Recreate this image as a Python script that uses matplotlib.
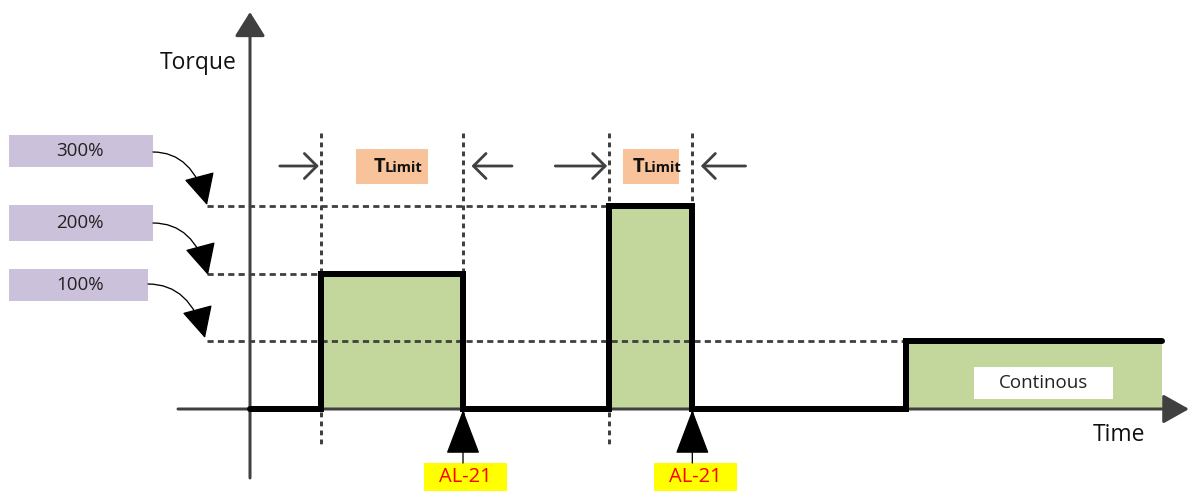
import matplotlib
matplotlib.use("Agg")
import matplotlib.pyplot as plt

# ---------------- data ----------------
t_edges = [0.0, 1.0, 3.0, 5.06, 6.23, 9.24, 12.85]    # time of each step edge
torque_levels = [0, 200, 0, 300, 0, 100]            # torque (%) on each segment
ref_levels = [300, 200, 100]                        # reference lines (%)
ref_labels = ["300%", "200%", "100%"]
ref_end_edge = [4, 2, 5]                            # index in t_edges where each dashed line stops
limit_windows = [(1, 2), (3, 4)]                    # T-limit windows (edge indices)
alarm_edges = [2, 4]                                # AL-21 alarm at these edges
alarm_label = "AL-21"
cont_label = "Continous"

plt.rcParams['font.family'] = ['Open Sans', 'DejaVu Sans']

W, H = 1189, 492
fig = plt.figure(figsize=(W / 100, H / 100), dpi=100)
ax = fig.add_axes([0, 0, 1, 1])
ax.axis('off')

# mapping: time 0 at pixel x=250, torque 0 at pixel y=409
X0, XS = 250.0, 71.0
Y0, YS = 409.0, 0.677
ax.set_xlim((0 - X0) / XS, (W - X0) / XS)
ax.set_ylim((Y0 - H) / YS, Y0 / YS)


def P(xp, yp):
    """pixel -> data coords (for decorations only)"""
    return ((xp - X0) / XS, (Y0 - yp) / YS)


def px_x(xp):
    return (xp - X0) / XS


def px_y(yp):
    return (Y0 - yp) / YS


GREY = '#404040'
PT = 0.72  # points per pixel

# green fill
ax.stairs(torque_levels, t_edges, fill=True, baseline=0, color='#c3d69b',
          linewidth=0, zorder=1)

# axes with arrows
ax.annotate('', xy=P(1189, 409), xytext=P(178, 409),
            arrowprops=dict(arrowstyle='-|>,head_length=0.8,head_width=0.45',
                            mutation_scale=20, color=GREY, lw=3 * PT,
                            shrinkA=0, shrinkB=0), zorder=2)
ax.annotate('', xy=P(250, 12), xytext=P(250, 478),
            arrowprops=dict(arrowstyle='-|>,head_length=0.75,head_width=0.47',
                            mutation_scale=20, color=GREY, lw=3 * PT,
                            shrinkA=0, shrinkB=0), zorder=2)

# dashed reference lines
for lvl, ei in zip(ref_levels, ref_end_edge):
    ax.plot([px_x(207), t_edges[ei]], [lvl, lvl], color=GREY, lw=2.8 * PT,
            linestyle=(0, (2.2, 1.5)), zorder=3)

# dotted vertical markers for limit windows
for a, b in limit_windows:
    for ei in (a, b):
        ax.plot([t_edges[ei], t_edges[ei]], [px_y(133), px_y(445)], color=GREY,
                lw=3 * PT, linestyle=(0, (1.6, 1.4)), zorder=3)

# signal
ax.stairs(torque_levels, t_edges, baseline=None, color='black', lw=6 * PT,
          zorder=5, capstyle='round', joinstyle='miter')

# window arrows and T-limit labels
ay = px_y(166)
tails = [(0.58, 0.69), (0.76, 0.75)]
for (a, b), (la, lb) in zip(limit_windows, tails):
    ta, tb = t_edges[a], t_edges[b]
    for tip, tail in ((ta - 0.03, ta - la), (tb + 0.12, tb + lb)):
        ax.annotate('', xy=(tip, ay), xytext=(tail, ay),
                    arrowprops=dict(arrowstyle='->,head_length=0.45,head_width=0.45',
                                    mutation_scale=20, color=GREY, lw=2.8 * PT,
                                    shrinkA=0, shrinkB=0, capstyle='round'),
                    zorder=4)
    cx = (ta + tb) / 2
    bw = 72 / XS if (tb - ta) > 1.5 else 56 / XS
    bh = 35 / YS
    ax.add_patch(plt.Rectangle((cx - bw / 2, px_y(184)), bw, bh,
                               facecolor='#f8c39b', edgecolor='none', zorder=4))
    ax.text(cx - 7 / XS, px_y(167), 'T', fontsize=14.5, fontweight='bold',
            ha='right', va='center', color='#111111', zorder=6)
    ax.text(cx - 7 / XS, px_y(168.5), 'Limit', fontsize=10.5, fontweight='bold',
            ha='left', va='center', color='#111111', zorder=6)

# purple label boxes with curved arrows
boxes = [(9, 153, 135, 167, 152, 207, 205),
         (9, 153, 205, 241, 223, 208, 275),
         (9, 148, 269, 301, 284, 205, 338)]
for lab, (x1, x2, y1, y2, ys, tx, ty) in zip(ref_labels, boxes):
    ax.add_patch(plt.Rectangle(P(x1, y2), (x2 - x1) / XS, (y2 - y1) / YS,
                               facecolor='#ccc1da', edgecolor='none', zorder=4))
    ax.text(px_x(80), px_y((y1 + y2) / 2), lab, fontsize=13.5, ha='center',
            va='center', color='#222222', zorder=6)
    ax.annotate('', xy=P(tx, ty), xytext=P(x2, ys),
                arrowprops=dict(arrowstyle='-|>,head_length=1.0,head_width=0.5',
                                mutation_scale=20, color='black', lw=1.3 * PT,
                                shrinkA=0, shrinkB=0,
                                connectionstyle='angle3,angleA=0,angleB=105'),
                zorder=6)

# alarms
for ei, bx in zip(alarm_edges, (424, 654)):
    t = t_edges[ei]
    ax.annotate('', xy=(t, px_y(410)), xytext=(t, px_y(463)),
                arrowprops=dict(arrowstyle='-|>,head_length=1.45,head_width=0.55',
                                mutation_scale=20, color='black', lw=1.3 * PT,
                                shrinkA=0, shrinkB=0), zorder=6)
    ax.add_patch(plt.Rectangle(P(bx, 491), 83 / XS, 28 / YS,
                               facecolor='#ffff00', edgecolor='none', zorder=4))
    ax.text(px_x(bx + 41.5), px_y(477), alarm_label, fontsize=14.5, ha='center',
            va='center', color='#ff0000', zorder=6)

# continuous label
ax.add_patch(plt.Rectangle(P(974, 399), 139 / XS, 32 / YS, facecolor='white',
                           edgecolor='none', zorder=4))
ax.text(px_x(1043.5), px_y(383), cont_label, fontsize=13.5, ha='center',
        va='center', color='#222222', zorder=6)

# axis titles
ax.text(px_x(160), px_y(63), 'Torque', fontsize=16.5, ha='left', va='center',
        color='#111111')
ax.text(px_x(1093), px_y(435), 'Time', fontsize=16.5, ha='left', va='center',
        color='#111111')

fig.savefig('out.png', dpi=100, facecolor='white')
